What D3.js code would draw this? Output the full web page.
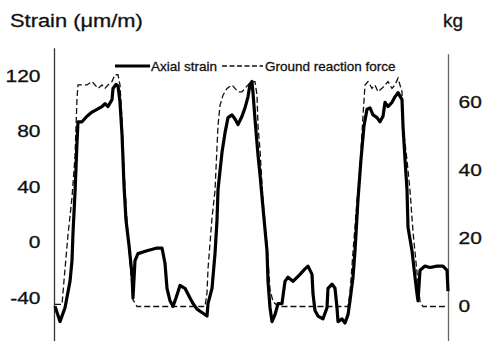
<!DOCTYPE html>
<html>
<head>
<meta charset="utf-8">
<script src="https://cdn.jsdelivr.net/npm/d3@7/dist/d3.min.js"></script>
<style>
  html, body { margin: 0; padding: 0; background: #fff; }
  svg { display: block; }
  text { font-family: "Liberation Sans", Arial, Helvetica, sans-serif; fill: #111; stroke: #111; stroke-width: 0.3px; }
</style>
</head>
<body>
<svg id="chart" width="485" height="341"></svg>
<script>
// ---- Data (time in s, strain in µm/m, force in kg) ----
const strainTime = [0.00,0.05,0.10,0.15,0.17,0.18,0.20,0.22,0.23,0.27,0.32,0.37,0.42,0.47,0.50,0.53,0.57,0.58,0.61,0.63,0.65,0.67,0.68,0.69,0.71,0.74,0.77,0.78,0.80,0.83,0.92,1.02,1.07,1.10,1.12,1.15,1.18,1.21,1.25,1.30,1.35,1.38,1.42,1.48,1.52,1.53,1.57,1.60,1.62,1.63,1.67,1.70,1.73,1.77,1.80,1.83,1.87,1.90,1.93,1.95,1.97,1.98,2.00,2.03,2.05,2.08,2.12,2.13,2.15,2.17,2.20,2.23,2.27,2.30,2.33,2.38,2.45,2.50,2.53,2.57,2.58,2.60,2.63,2.68,2.72,2.73,2.77,2.80,2.82,2.83,2.87,2.90,2.93,2.95,2.98,3.00,3.03,3.06,3.09,3.12,3.15,3.18,3.22,3.25,3.28,3.30,3.33,3.37,3.40,3.43,3.47,3.48,3.50,3.52,3.53,3.57,3.60,3.62,3.63,3.65,3.70,3.75,3.82,3.88,3.92,3.93];
const strainValues = [-46,-57,-47,-28,-13,7,36,72,87,87,91,94,96,98,100,98,103,111,114,113,101,78,60,41,16,-2,-23,-40,-13,-8,-6,-4,-4,-15,-33,-42,-46,-40,-31,-33,-40,-44,-48,-51,-53,-44,-33,-8,16,38,65,79,90,92,89,85,91,97,105,114,116,108,89,63,49,25,-6,-28,-47,-57,-52,-44,-44,-28,-25,-28,-23,-19,-17,-23,-37,-49,-53,-55,-47,-33,-30,-33,-47,-57,-55,-58,-52,-42,-25,-6,31,60,84,96,97,92,90,87,91,101,98,101,105,108,103,84,60,38,11,-6,-25,-37,-42,-20,-17,-18,-17,-17,-20,-35];

const forceTime = [0.00,0.07,0.10,0.13,0.17,0.20,0.22,0.23,0.27,0.32,0.37,0.40,0.43,0.47,0.50,0.53,0.57,0.60,0.63,0.65,0.67,0.69,0.72,0.75,0.78,0.82,1.50,1.52,1.53,1.57,1.60,1.63,1.65,1.68,1.72,1.77,1.80,1.83,1.87,1.90,1.93,1.97,2.00,2.02,2.03,2.05,2.08,2.12,2.15,2.18,2.23,2.93,2.95,2.98,3.02,3.05,3.08,3.10,3.13,3.17,3.20,3.23,3.27,3.30,3.33,3.37,3.40,3.43,3.45,3.47,3.48,3.52,3.55,3.58,3.62,3.65,3.68,3.93];
const forceValues = [0.6,0.6,11,21,32,44,61,65,65,65,66,65,64,65,64,65,66,68,68,65,55,40,25,13,2,0,0,4,11,26,34,53,59,62,64,65,64,63,63,64,65,66,66,62,53,46,31,18,5,1.5,0,0,4,16,31,41,56,65,66,64,65,63,64,65,66,64,65,67,65,63,53,43,34,22,10,1.5,0,0];

const strainTicks = [-40, 0, 40, 80, 120];
const forceTicks = [0, 20, 40, 60];
const legendLabels = ["Axial strain", "Ground reaction force"];
const leftTitle = "Strain (\u03bcm/m)";
const rightTitle = "kg";

// ---- Scales ----
const svg = d3.select("#chart");
const x = d3.scaleLinear().domain([0, 3.93]).range([55, 448]);
const yL = d3.scaleLinear().domain([-40, 120]).range([298, 76]);
const yR = d3.scaleLinear().domain([0, 60]).range([306.5, 102]);

// ---- Axes lines ----
svg.append("line").attr("x1", 54.5).attr("x2", 54.5)
  .attr("y1", yL(140)).attr("y2", 341).attr("stroke", "#333").attr("stroke-width", 1.3);
svg.append("line").attr("x1", 448.5).attr("x2", 448.5)
  .attr("y1", yR(74)).attr("y2", 341).attr("stroke", "#666").attr("stroke-width", 1.3);

// ---- Left axis ----
const sx = 1.27;
const fmt = d => String(d);
const gL = svg.append("g").attr("transform", "translate(54.5,0)")
  .call(d3.axisLeft(yL).tickValues(strainTicks).tickFormat(fmt).tickSize(0).tickPadding(14));
gL.select(".domain").remove();
gL.selectAll("text")
  .attr("font-family", "Liberation Sans, Arial, sans-serif")
  .attr("font-size", 16.5).attr("fill", "#111")
  .attr("x", -14 / sx).attr("transform", `scale(${sx},1)`);

// ---- Right axis ----
const gR = svg.append("g").attr("transform", "translate(448.5,0)")
  .call(d3.axisRight(yR).tickValues(forceTicks).tickFormat(fmt).tickSize(0).tickPadding(10));
gR.select(".domain").remove();
gR.selectAll("text")
  .attr("font-family", "Liberation Sans, Arial, sans-serif")
  .attr("font-size", 16.5).attr("fill", "#111")
  .attr("x", 10 / sx).attr("transform", `scale(${sx},1)`);

// ---- Titles ----
svg.append("text").attr("transform", "translate(10,27) scale(1.15,1)")
  .attr("font-size", 19).text(leftTitle);
svg.append("text").attr("x", 443).attr("y", 27)
  .attr("font-size", 19).text(rightTitle);

// ---- Lines ----
const strainData = strainTime.map((t, i) => [t, strainValues[i]]);
const forceData = forceTime.map((t, i) => [t, forceValues[i]]);

svg.append("path").datum(forceData)
  .attr("fill", "none").attr("stroke", "#111").attr("stroke-width", 1.3)
  .attr("stroke-dasharray", "6,3")
  .attr("d", d3.line().x(d => x(d[0])).y(d => yR(d[1])));

svg.append("path").datum(strainData)
  .attr("fill", "none").attr("stroke", "#000").attr("stroke-width", 3.2)
  .attr("stroke-linejoin", "round")
  .attr("d", d3.line().x(d => x(d[0])).y(d => yL(d[1])));

// ---- Legend ----
const lg = svg.append("g");
lg.append("line").attr("x1", 115).attr("x2", 150).attr("y1", 66).attr("y2", 66)
  .attr("stroke", "#000").attr("stroke-width", 3);
lg.append("text").attr("x", 151).attr("y", 71).attr("font-size", 13.5).attr("stroke-width", 0.2).text(legendLabels[0]);
lg.append("line").attr("x1", 222).attr("x2", 263).attr("y1", 66).attr("y2", 66)
  .attr("stroke", "#111").attr("stroke-width", 1.4).attr("stroke-dasharray", "5,2.5");
lg.append("text").attr("x", 265).attr("y", 71).attr("font-size", 13.5).attr("stroke-width", 0.2).text(legendLabels[1]);
</script>
</body>
</html>
